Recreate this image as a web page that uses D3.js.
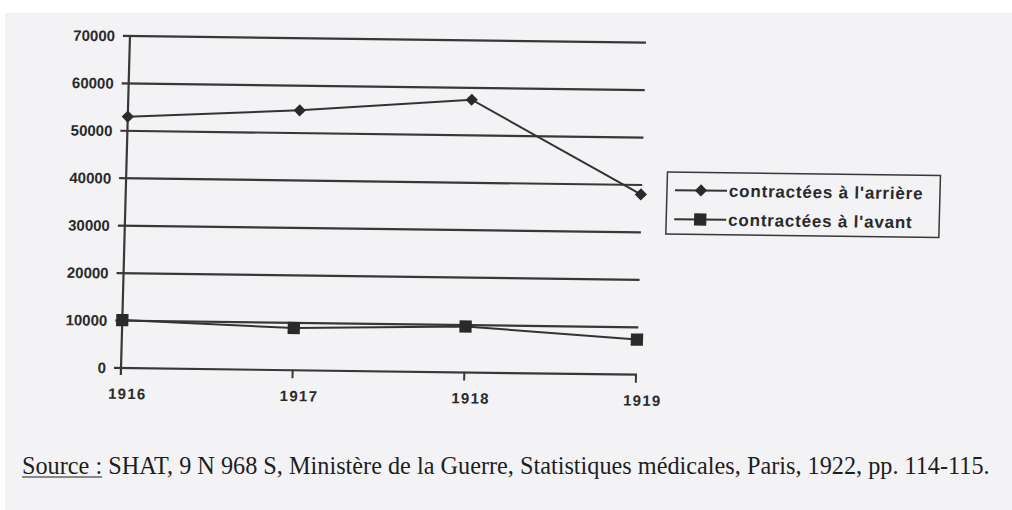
<!DOCTYPE html>
<html>
<head>
<meta charset="utf-8">
<script src="https://cdn.jsdelivr.net/npm/d3@7"></script>
<style>
  body { margin: 0; background: #fff; }
  svg { display: block; }
</style>
</head>
<body>
<div id="chart"></div>
<script>
// values
var years = ["1916", "1917", "1918", "1919"];
var arriere = [53000, 54800, 57500, 38000];
var avant = [10100, 8900, 9700, 7400];
var yTicks = [0, 10000, 20000, 30000, 40000, 50000, 60000, 70000];
var seriesNames = ["contractées à l'arrière", "contractées à l'avant"];
var sourceText = "SHAT, 9 N 968 S, Ministère de la Guerre, Statistiques médicales, Paris, 1922, pp. 114-115.";

var W = 1012, H = 510;
var width = 515, height = 332;
var ink = "#383838";

var svg = d3.select("#chart").append("svg")
    .attr("width", W)
    .attr("height", H);

// scanned page background
svg.append("rect").attr("width", W).attr("height", H).attr("fill", "#fff");
svg.append("rect").attr("x", 5).attr("y", 13).attr("width", W - 5).attr("height", H - 13)
    .attr("fill", "#f3f3f5");

// the scan is slightly skewed, so the chart is drawn in a sheared group
var g = svg.append("g")
    .attr("transform", "matrix(1,0.013,-0.027,1,121,368)");

var x = d3.scalePoint().domain(years).range([0, width]);
var y = d3.scaleLinear().domain([0, 70000]).range([0, -height]);

// gridlines + left ticks
g.append("g")
  .selectAll("line")
  .data(yTicks)
  .enter().append("line")
    .attr("x1", -7)
    .attr("x2", width + 1)
    .attr("y1", function (d) { return y(d); })
    .attr("y2", function (d) { return y(d); })
    .attr("stroke", ink)
    .attr("stroke-width", 2.2);

// y axis line
g.append("line")
    .attr("x1", 0).attr("x2", 0)
    .attr("y1", 7).attr("y2", y(70000))
    .attr("stroke", ink)
    .attr("stroke-width", 2.2);

// y tick labels
g.append("g")
  .selectAll("text")
  .data(yTicks)
  .enter().append("text")
    .attr("x", -15)
    .attr("y", function (d) { return y(d); })
    .attr("dy", "0.36em")
    .attr("text-anchor", "end")
    .style("font", "bold 15px 'Liberation Sans', Arial, sans-serif")
    .attr("fill", "#2a2a2a")
    .text(function (d) { return d; });

// x ticks
g.append("g")
  .selectAll("line")
  .data(years.slice(1))
  .enter().append("line")
    .attr("x1", function (d) { return x(d); })
    .attr("x2", function (d) { return x(d); })
    .attr("y1", 0).attr("y2", 8)
    .attr("stroke", ink)
    .attr("stroke-width", 2);

// x labels
g.append("g")
  .selectAll("text")
  .data(years)
  .enter().append("text")
    .attr("x", function (d) { return x(d) + 7; })
    .attr("y", 31)
    .attr("text-anchor", "middle")
    .style("font", "bold 15px 'Liberation Sans', Arial, sans-serif")
    .style("letter-spacing", "1.3px")
    .attr("fill", "#2a2a2a")
    .text(function (d) { return d; });

var line = d3.line()
    .x(function (d, i) { return x(years[i]); })
    .y(function (d) { return y(d); });

[arriere, avant].forEach(function (vals) {
  g.append("path")
    .datum(vals)
    .attr("d", line)
    .attr("fill", "none")
    .attr("stroke", "#333")
    .attr("stroke-width", 2);
});

var diamond = d3.symbol().type(d3.symbolSquare).size(75);
var square = d3.symbol().type(d3.symbolSquare).size(150);

g.append("g")
  .selectAll("path")
  .data(arriere)
  .enter().append("path")
    .attr("d", diamond)
    .attr("transform", function (d, i) { return "translate(" + x(years[i]) + "," + y(d) + ") rotate(45)"; })
    .attr("fill", "#2a2a2a");

g.append("g")
  .selectAll("path")
  .data(avant)
  .enter().append("path")
    .attr("d", square)
    .attr("transform", function (d, i) { return "translate(" + x(years[i]) + "," + y(d) + ")"; })
    .attr("fill", "#2a2a2a");

// legend
var legend = g.append("g").attr("transform", "translate(541,-203)");
legend.append("rect")
    .attr("width", 273).attr("height", 62)
    .attr("fill", "none")
    .attr("stroke", ink)
    .attr("stroke-width", 1.5);

seriesNames.forEach(function (name, i) {
  var row = legend.append("g").attr("transform", "translate(0," + (18 + i * 29) + ")");
  row.append("line")
      .attr("x1", 8).attr("x2", 60)
      .attr("stroke", "#333").attr("stroke-width", 2);
  row.append("path")
      .attr("d", i === 0 ? diamond : square)
      .attr("transform", "translate(34,0)" + (i === 0 ? " rotate(45)" : ""))
      .attr("fill", "#2a2a2a");
  row.append("text")
      .attr("x", 62)
      .attr("dy", "0.35em")
      .style("font", "bold 17px 'Liberation Sans', Arial, sans-serif")
      .style("letter-spacing", "0.8px")
      .attr("fill", "#2a2a2a")
      .text(name);
});

// source line
var src = svg.append("text")
    .attr("x", 22)
    .attr("y", 474)
    .style("font", "17px 'Liberation Serif', 'Times New Roman', serif")
    .attr("fill", "#1e1e1e");
var lbl = src.append("tspan").text("Source :");
src.append("tspan").text(" " + sourceText);

// fit the source line to the width it takes in the scan
var natural = src.node().getComputedTextLength();
var fs = 17 * 968 / natural;
src.style("font-size", fs + "px");
var lblW = lbl.node().getComputedTextLength();
svg.append("line")
    .attr("x1", 22).attr("x2", 22 + lblW)
    .attr("y1", 477).attr("y2", 477)
    .attr("stroke", "#1e1e1e")
    .attr("stroke-width", 1);
</script>
</body>
</html>
